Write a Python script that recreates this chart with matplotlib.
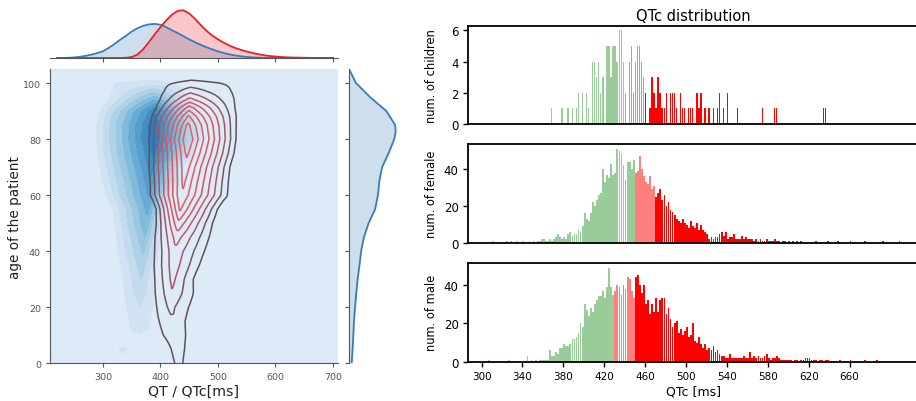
import numpy as np
import matplotlib
matplotlib.use('Agg')
import matplotlib.pyplot as plt

# ---- top marginal: KDE of QT (blue) and QTc (red), relative density ----
marg_x = list(range(220, 710, 10))
qt_marg = [0.0, 0.0, 0.004, 0.012, 0.025, 0.045, 0.07, 0.1, 0.14, 0.21, 0.29, 0.38,
           0.46, 0.55, 0.62, 0.67, 0.70, 0.71, 0.695, 0.645, 0.58, 0.52, 0.455, 0.39,
           0.33, 0.275, 0.225, 0.18, 0.14, 0.105, 0.075, 0.053, 0.036, 0.022, 0.013,
           0.008, 0.005, 0.003, 0.002, 0.001, 0.0, 0.0, 0.0, 0.0, 0.0, 0.0, 0.0, 0.0, 0.0]
qtc_marg = [0.0, 0.0, 0.0, 0.0, 0.0, 0.0, 0.0, 0.0, 0.0, 0.0, 0.0, 0.0,
            0.005, 0.02, 0.07, 0.18, 0.33, 0.49, 0.64, 0.78, 0.9, 0.98, 0.995, 0.93,
            0.82, 0.69, 0.57, 0.47, 0.39, 0.32, 0.26, 0.21, 0.17, 0.135, 0.105, 0.08,
            0.058, 0.042, 0.03, 0.021, 0.015, 0.01, 0.007, 0.005, 0.003, 0.002, 0.001,
            0.0005, 0.0]

# ---- right marginal: KDE of age ----
age_marg_y = [0, 5, 10, 15, 20, 25, 30, 35, 40, 45, 50, 55, 60, 65, 70, 75, 80, 82.5,
              85, 90, 95, 100, 105]
age_marg = [0.058, 0.077, 0.092, 0.107, 0.13, 0.155, 0.185, 0.225, 0.26, 0.32, 0.42,
            0.56, 0.62, 0.65, 0.71, 0.85, 0.97, 1.0, 0.99, 0.8, 0.45, 0.15, 0.0]

# ---- joint KDE, read row by row (age): ridge centre, left/right reach, peak ----
qt_age = [0, 2.5, 5, 8.5, 12, 16, 20, 25, 30, 35, 40, 45, 50, 55, 60, 65, 70, 75, 80,
          85, 90, 94, 97, 100, 103, 106]
qt_centre = [336, 334, 335, 352, 364, 364, 364, 365, 366, 368, 370, 373, 375, 378, 380,
             383, 385, 388, 390, 390, 390, 390, 390, 388, 388, 388]
qt_reach_left = [20, 20, 65, 40, 70, 46, 46, 45, 46.5, 51, 57, 61, 66, 71, 86, 95, 102,
                 109, 112, 112, 107, 94, 98, 224, 224, 224]
qt_reach_right = [20, 20, 65, 40, 70, 46, 46, 40, 36, 35, 34, 34, 34, 36, 46, 57, 62,
                  78, 89, 89, 85, 72, 68, 98, 98, 98]
qt_peak = [0.05, 0.09, 0.115, 0.08, 0.125, 0.17, 0.2, 0.25, 0.3, 0.36, 0.42, 0.5, 0.58,
           0.64, 0.72, 0.78, 0.85, 0.93, 1.0, 0.99, 0.88, 0.6, 0.38, 0.14, 0.03, 0.0]

qtc_age = [0, 5, 10, 15, 20, 25, 30, 35, 40, 45, 50, 55, 60, 65, 70, 75, 80, 85, 88,
           91, 94, 97, 100, 103, 106]
qtc_centre = [432, 430, 427, 423, 418, 420, 421, 423, 425, 428, 431, 434, 437, 440, 443,
              446, 447, 448, 449, 450, 451, 452, 454, 455, 455]
qtc_reach_left = [30, 33, 53, 53, 43, 44, 44, 47, 47.5, 48, 46, 48, 62, 66, 71, 73, 74,
                  74, 73, 68, 67, 72, 130, 130, 130]
qtc_reach_right = [30, 36, 41, 42, 55, 57, 52, 62, 70, 73, 72, 76, 91, 89, 88, 92, 94,
                   94, 94.5, 94, 100, 113, 210, 210, 210]
qtc_peak = [0.13, 0.15, 0.17, 0.19, 0.23, 0.29, 0.33, 0.36, 0.38, 0.45, 0.58, 0.72, 0.8,
            0.83, 0.87, 0.93, 1.0, 0.93, 0.82, 0.66, 0.44, 0.27, 0.13, 0.04, 0.0]

# ---- QTc histograms (2 ms bins) ----
female_start = 356
female_counts = [1, 2, 2, 1, 1, 2, 1, 2, 3, 5, 3, 2, 3, 2, 5, 6, 4, 5, 5, 7, 6, 9,
                 16, 13, 12, 16, 22, 20, 23, 26, 27, 40, 33, 37, 35, 43, 37, 38, 51, 50,
                 48, 42, 34, 44, 44, 40, 45, 38, 39, 47, 40, 36, 33, 32, 36, 29, 31, 25,
                 27, 29, 23, 26, 20, 22, 18, 17, 15, 13, 12, 11, 13, 11, 10, 8, 12, 9, 8,
                 11, 7, 10, 7, 6, 5, 2, 3, 2, 3, 3, 5, 6, 4, 6, 2, 3, 3, 5, 2, 2, 2, 4, 2,
                 3, 2, 2, 2, 1, 2, 1, 2, 1, 1, 2, 1, 1, 1, 2, 1, 1, 0, 1, 1, 0, 1, 0, 1,
                 0, 1, 0, 1]
female_tail_qtc = [310, 324, 328, 334, 340, 346, 350, 354, 626, 638, 648, 660, 674, 692, 708]
female_tail_n = [1] * 15

male_start = 344
male_counts = [3, 0, 1, 0, 1, 0, 1, 1, 1, 1, 1, 6, 3, 3, 5, 4, 7, 7, 9, 8, 8, 9, 12,
               12, 13, 15, 20, 18, 30, 27, 24, 28, 26, 30, 32, 34, 34, 37, 33, 39, 49,
               39, 35, 37, 40, 39, 35, 40, 38, 44, 43, 37, 33, 44, 45, 40, 36, 40, 30,
               32, 25, 30, 26, 33, 26, 32, 33, 33, 25, 28, 22, 18, 20, 21, 15, 17, 14,
               16, 18, 13, 14, 20, 11, 10, 13, 9, 7, 9, 6, 7, 6, 8, 5, 6, 4, 3, 3, 2, 2,
               4, 2, 2, 2, 2, 2, 2, 3, 2, 2, 5, 2, 3, 2, 3, 2, 2, 3, 4, 2, 1, 2, 2, 3, 2,
               1, 1, 1, 1, 1, 1, 0, 1, 1, 0, 1, 1, 2, 2, 2, 1, 1, 1, 0, 1, 1, 0, 1, 1]
male_tail_qtc = [306, 326, 650, 660, 674, 686]
male_tail_n = [1, 1, 1, 1, 1, 1]

child_qtc = [368, 378, 384, 388, 392, 394, 398, 402, 404, 408, 410, 412, 414, 416, 418,
             422, 424, 426, 428, 430, 432, 434, 436, 438, 440, 444, 446, 448, 450, 452,
             454, 456, 458, 460, 464, 466, 468, 470, 472, 474, 476, 478, 480, 484, 486,
             488, 490, 494, 496, 498, 502, 504, 506, 510, 512, 514, 518, 522, 526, 530,
             532, 536, 540, 550, 574, 586, 588, 634, 636]
child_n = [1, 1, 1, 1, 1, 2, 2, 2, 1, 4, 4, 3, 4, 2, 3, 5, 5, 3, 5, 5, 4, 6, 6, 4, 2,
           4, 5, 2, 4, 5, 5, 4, 3, 2, 1, 3, 2, 1, 3, 2, 1, 1, 2, 2, 2, 2, 1, 2, 1, 1, 1,
           1, 1, 2, 1, 2, 1, 1, 1, 1, 2, 1, 2, 1, 1, 1, 1, 1, 1]

# borderline / prolonged QTc limits
limits = {'children': (440, 460), 'female': (450, 470), 'male': (430, 450)}


def box(l, t, r, b):
    return [l / 916, 1 - b / 402, (r - l) / 916, (b - t) / 402]


def ridge_field(x, centre, reach_l, reach_r, peak):
    # each age row: density falls off linearly from the ridge centre
    rows = []
    for c, wl, wr, p in zip(centre, reach_l, reach_r, peak):
        w = np.where(x < c, wl, wr)
        rows.append(p * np.clip(1 - np.abs(x - c) / w, 0, None))
    return np.array(rows)


fig = plt.figure(figsize=(9.16, 4.02), dpi=100)

# ---------------- joint plot ----------------
grey = '#555555'
ax_j = fig.add_axes(box(50, 70, 338, 364.3))
gx = np.linspace(205, 712, 700)
z_qt = ridge_field(gx, qt_centre, qt_reach_left, qt_reach_right, qt_peak)
z_qtc = ridge_field(gx, qtc_centre, qtc_reach_left, qtc_reach_right, qtc_peak)

blues = plt.get_cmap('Blues')
band_cols = [blues(v) for v in np.linspace(0.13, 0.70, 10)]
ax_j.set_facecolor(band_cols[0])
ax_j.contourf(gx, qt_age, z_qt, levels=[-1] + [i / 10 for i in range(1, 10)] + [2],
              colors=band_cols)
line_cols = ['#625058', '#76565f', '#a85663', '#c95662', '#d6555f', '#dc5761',
             '#df5a64', '#e15d67', '#e3606a']
ax_j.contour(gx, qtc_age, z_qtc, levels=[i / 10 for i in range(1, 10)],
             colors=line_cols, linewidths=1.1)
ax_j.set_xlim(208, 709)
ax_j.set_ylim(0, 105)
ax_j.set_xticks([300, 400, 500, 600, 700])
ax_j.set_yticks([0, 20, 40, 60, 80, 100])
ax_j.tick_params(labelsize=6.8, colors=grey, length=3, width=0.8)
for s in ['top', 'right']:
    ax_j.spines[s].set_visible(False)
for s in ['left', 'bottom']:
    ax_j.spines[s].set_color(grey)
ax_j.set_xlabel('QT / QTc[ms]', fontsize=10.2, color='#222222', labelpad=2)
ax_j.set_ylabel('age of the patient', fontsize=9.8, color='#222222')
ax_j.yaxis.set_label_coords(-0.097, 0.5)

# top marginal
ax_t = fig.add_axes(box(50, 5, 338, 59), sharex=ax_j)
ax_t.fill_between(marg_x, qt_marg, color='#3a7cb8', alpha=0.25, linewidth=0)
ax_t.plot(marg_x, qt_marg, color='#3a7cb8', lw=1.3)
ax_t.fill_between(marg_x, qtc_marg, color='#e8202a', alpha=0.25, linewidth=0)
ax_t.plot(marg_x, qtc_marg, color='#e8202a', lw=1.3)
ax_t.set_ylim(0, 1.125)
ax_t.set_yticks([])
ax_t.tick_params(labelbottom=False, colors=grey, length=3, width=0.8)
for s in ['top', 'right', 'left']:
    ax_t.spines[s].set_visible(False)
ax_t.spines['bottom'].set_color(grey)

# right marginal
ax_r = fig.add_axes(box(349, 70, 405, 364.3), sharey=ax_j)
ax_r.fill_betweenx(age_marg_y, age_marg, color='#3a7cb8', alpha=0.25, linewidth=0)
ax_r.plot(age_marg, age_marg_y, color='#3a7cb8', lw=1.3)
ax_r.set_xlim(0, 1.2)
ax_r.set_xticks([])
ax_r.tick_params(labelleft=False, colors=grey, length=3, width=0.8)
for s in ['top', 'right', 'bottom']:
    ax_r.spines[s].set_visible(False)
ax_r.spines['left'].set_color(grey)

# ---------------- QTc histograms ----------------
green = (0.0, 0.5, 0.0, 0.4)
light_red = (1.0, 0.0, 0.0, 0.5)
red = (1.0, 0.0, 0.0, 1.0)


def draw_hist(ax, qtc, n, lim, width):
    cols = [green if q < lim[0] else light_red if q < lim[1] else red for q in qtc]
    ax.bar(qtc, n, width=width, align='edge', color=cols, linewidth=0)
    ax.set_xlim(287, 727)
    ax.tick_params(labelsize=8.5, length=3.5, width=1)
    for s in ax.spines.values():
        s.set_linewidth(1.3)


panels = [
    ('children', box(468.3, 26.7, 918, 125), child_qtc, child_n, 1.3),
    ('female', box(468.3, 145, 918, 244),
     female_tail_qtc + [female_start + 2 * i for i in range(len(female_counts))],
     female_tail_n + female_counts, 1.75),
    ('male', box(468.3, 264, 918, 362.7),
     male_tail_qtc + [male_start + 2 * i for i in range(len(male_counts))],
     male_tail_n + male_counts, 1.75),
]
axes_h = []
for name, pos, qtc, n, w in panels:
    ax = fig.add_axes(pos)
    draw_hist(ax, qtc, n, limits[name], w)
    ax.set_ylabel('num. of ' + name, fontsize=8.3)
    ax.yaxis.set_label_coords(-0.068, 0.5)
    axes_h.append(ax)

axes_h[0].set_title('QTc distribution', fontsize=10.5, pad=4)
axes_h[0].set_xticks([])
axes_h[1].set_xticks([])
axes_h[2].set_xticks(list(range(300, 700, 40)))
axes_h[2].tick_params(axis='x', labelsize=7.5)
axes_h[2].set_xlabel('QTc [ms]', fontsize=9, labelpad=2)

fig.savefig('out.png', dpi=100)
